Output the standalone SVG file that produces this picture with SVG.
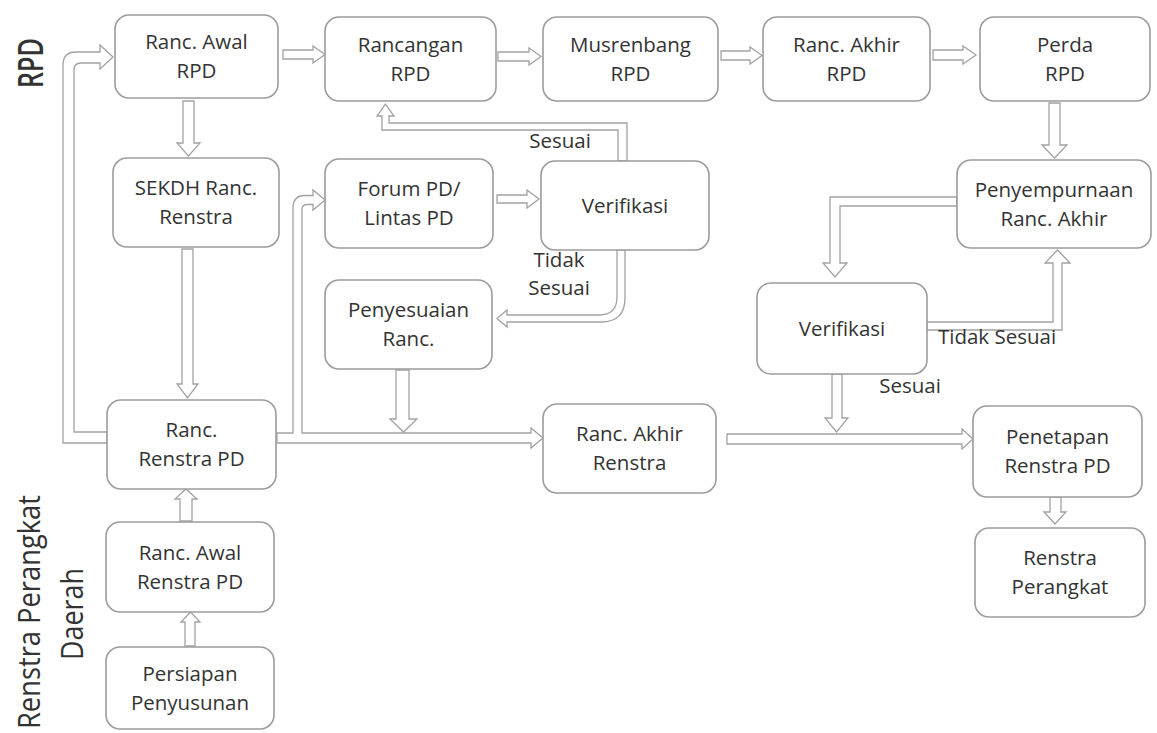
<svg xmlns="http://www.w3.org/2000/svg" width="1157" height="733" viewBox="0 0 1157 733">
<style>
.bg{fill:#ffffff}
.box{fill:#ffffff;stroke:#9c9c9c;stroke-width:1.6}
.t{font-family:'Open Sans','Noto Sans','Liberation Sans',sans-serif;font-size:20.5px;fill:#333333;text-anchor:middle}
.side{font-family:'Open Sans','Noto Sans','Liberation Sans',sans-serif;fill:#333333;text-anchor:middle}
.arr{fill:#ffffff;stroke:#a2a2a2;stroke-width:1.3;stroke-linejoin:miter}
</style>
<rect class="bg" x="0" y="0" width="1157" height="733"/>

<g id="side-labels">
<text class="side" transform="translate(43,63) rotate(-90)" font-size="34" font-weight="600" textLength="50" lengthAdjust="spacingAndGlyphs">RPD</text>
<text class="side" transform="translate(40,612) rotate(-90)" font-size="31" textLength="234" lengthAdjust="spacingAndGlyphs">Renstra Perangkat</text>
<text class="side" transform="translate(83,614) rotate(-90)" font-size="31" textLength="92" lengthAdjust="spacingAndGlyphs">Daerah</text>
</g>

<g id="connectors">
<path class="arr" d="M283,50 L313,50 L313,46 L325,54.5 L313,63 L313,59 L283,59 Z"/>
<path class="arr" d="M498,52 L529,52 L529,48 L541,56.5 L529,65 L529,61 L498,61 Z"/>
<path class="arr" d="M721,51 L750,51 L750,47 L762,55.5 L750,64 L750,60 L721,60 Z"/>
<path class="arr" d="M933,50 L963,50 L963,46 L976,55 L963,64 L963,60 L933,60 Z"/>
<path class="arr" d="M1049,103 L1049,145 L1042,145 L1054.5,158 L1067,145 L1060,145 L1060,103 Z"/>
<path class="arr" d="M183,101 L183,143 L177,143 L188.5,156 L200,143 L194,143 L194,101 Z"/>
<path class="arr" d="M182,249 L182,384 L177,384 L187.5,398 L198,384 L193,384 L193,249 Z"/>
<path class="arr" d="M107,432 L74,432 L74,70 Q74,63 81,63 L100,63 L100,69 L113,57 L100,45 L100,52 L76,52 Q63,52 63,65 L63,443 L107,443 Z"/>
<path class="arr" d="M277,433 L293,433 L293,208 Q293,195.5 305,195.5 L313,195.5 L313,190 L325,200 L313,210 L313,204.5 L307,204.5 Q302,204.5 302,209.5 L302,433 L531,433 L531,428 L543,438 L531,448 L531,443 L277,443 Z"/>
<path class="arr" d="M396,370 L396,419 L390,419 L403.5,432 L417,419 L409,419 L409,370 Z"/>
<path class="arr" d="M497,195 L527,195 L527,190 L539,199 L527,208 L527,203 L497,203 Z"/>
<path class="arr" d="M618,161 L618,130 L382,130 L382,116 L377,116 L385.5,104 L394,116 L389,116 L389,123 L627,123 L627,161 Z"/>
<path class="arr" d="M617,250 L617,297 Q617,315 599,315 L507,315 L507,310 L497,318.5 L507,327 L507,322 L601,322 Q625,322 625,298 L625,250 Z"/>
<path class="arr" d="M957,197 L830,197 L830,263 L823,263 L835,277 L847,263 L840,263 L840,206 L957,206 Z"/>
<path class="arr" d="M927,322 L1053,322 L1053,263 L1045,263 L1057.5,250 L1070,263 L1062,263 L1062,330 L927,330 Z"/>
<path class="arr" d="M832,374 L832,418 L825,418 L836.5,432 L848,418 L842,418 L842,374 Z"/>
<path class="arr" d="M727,434 L962,434 L962,429 L973,439 L962,449 L962,444 L727,444 Z"/>
<path class="arr" d="M1050,497 L1050,512 L1044,512 L1055,524 L1066,512 L1061,512 L1061,497 Z"/>
<path class="arr" d="M180,521 L180,499 L175,499 L186,489 L197,499 L192,499 L192,521 Z"/>
<path class="arr" d="M185,646 L185,622 L181,622 L190.5,612 L200,622 L195,622 L195,646 Z"/>
<text class="t" x="560" y="148">Sesuai</text>
<text class="t" x="559" y="267">Tidak</text>
<text class="t" x="559" y="295">Sesuai</text>
<text class="t" x="997" y="344">Tidak Sesuai</text>
<text class="t" x="910" y="393">Sesuai</text>
</g>

<g id="n-ranc-awal-rpd"><rect class="box" x="115" y="15" width="163" height="83" rx="14"/><text class="t" x="196.5" y="49">Ranc. Awal</text><text class="t" x="196.5" y="78">RPD</text></g>
<g id="n-rancangan-rpd"><rect class="box" x="325" y="17" width="171" height="84" rx="14"/><text class="t" x="410.5" y="51.5">Rancangan</text><text class="t" x="410.5" y="80.5">RPD</text></g>
<g id="n-musrenbang-rpd"><rect class="box" x="543" y="17" width="175" height="84" rx="14"/><text class="t" x="630.5" y="51.5">Musrenbang</text><text class="t" x="630.5" y="80.5">RPD</text></g>
<g id="n-ranc-akhir-rpd"><rect class="box" x="763" y="17" width="167" height="84" rx="14"/><text class="t" x="846.5" y="51.5">Ranc. Akhir</text><text class="t" x="846.5" y="80.5">RPD</text></g>
<g id="n-perda-rpd"><rect class="box" x="980" y="17" width="170" height="84" rx="14"/><text class="t" x="1065" y="51.5">Perda</text><text class="t" x="1065" y="80.5">RPD</text></g>
<g id="n-sekdh"><rect class="box" x="113" y="158" width="166" height="89" rx="14"/><text class="t" x="196" y="195">SEKDH Ranc.</text><text class="t" x="196" y="224">Renstra</text></g>
<g id="n-forum"><rect class="box" x="325" y="159" width="168" height="89" rx="14"/><text class="t" x="409" y="196">Forum PD/</text><text class="t" x="409" y="225">Lintas PD</text></g>
<g id="n-verifikasi-1"><rect class="box" x="541" y="161" width="168" height="89" rx="14"/><text class="t" x="625" y="212.5">Verifikasi</text></g>
<g id="n-penyempurnaan"><rect class="box" x="957" y="160" width="194" height="88" rx="14"/><text class="t" x="1054" y="196.5">Penyempurnaan</text><text class="t" x="1054" y="225.5">Ranc. Akhir</text></g>
<g id="n-penyesuaian"><rect class="box" x="325" y="280" width="167" height="89" rx="14"/><text class="t" x="408.5" y="317">Penyesuaian</text><text class="t" x="408.5" y="346">Ranc.</text></g>
<g id="n-verifikasi-2"><rect class="box" x="757" y="283" width="170" height="91" rx="14"/><text class="t" x="842" y="335.5">Verifikasi</text></g>
<g id="n-ranc-renstra-pd"><rect class="box" x="107" y="400" width="169" height="89" rx="14"/><text class="t" x="191.5" y="437">Ranc.</text><text class="t" x="191.5" y="466">Renstra PD</text></g>
<g id="n-ranc-akhir-renstra"><rect class="box" x="543" y="404" width="173" height="89" rx="14"/><text class="t" x="629.5" y="441">Ranc. Akhir</text><text class="t" x="629.5" y="470">Renstra</text></g>
<g id="n-penetapan"><rect class="box" x="973" y="406" width="169" height="91" rx="14"/><text class="t" x="1057.5" y="444">Penetapan</text><text class="t" x="1057.5" y="473">Renstra PD</text></g>
<g id="n-renstra-perangkat"><rect class="box" x="975" y="528" width="170" height="89" rx="14"/><text class="t" x="1060" y="565">Renstra</text><text class="t" x="1060" y="594">Perangkat</text></g>
<g id="n-ranc-awal-renstra-pd"><rect class="box" x="106" y="522" width="168" height="90" rx="14"/><text class="t" x="190" y="559.5">Ranc. Awal</text><text class="t" x="190" y="588.5">Renstra PD</text></g>
<g id="n-persiapan"><rect class="box" x="106" y="647" width="168" height="82" rx="14"/><text class="t" x="190" y="680.5">Persiapan</text><text class="t" x="190" y="709.5">Penyusunan</text></g>
</svg>
